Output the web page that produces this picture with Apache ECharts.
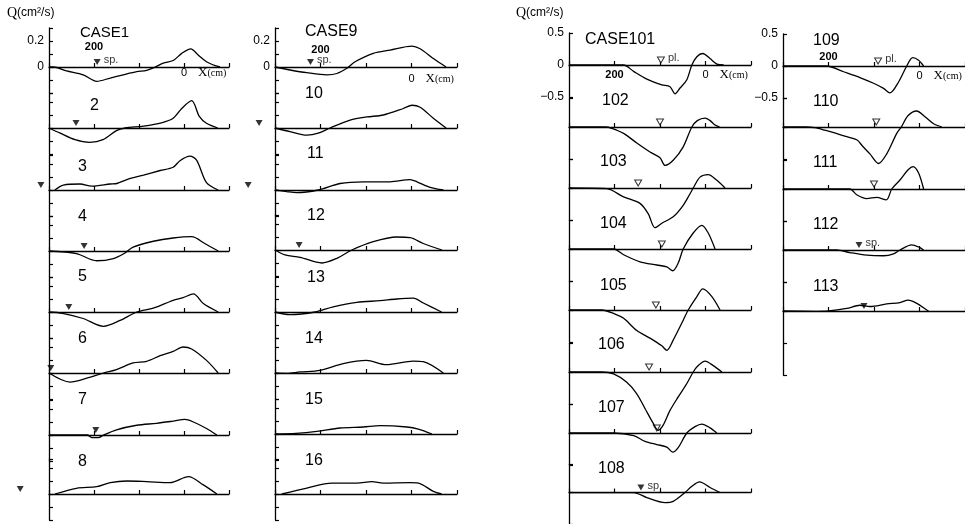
<!DOCTYPE html>
<html><head><meta charset="utf-8">
<script src="https://cdn.jsdelivr.net/npm/echarts@6/dist/echarts.min.js"></script>
<style>html,body{margin:0;padding:0;background:#fff}#c{width:965px;height:524px}</style>
</head><body><div id="c"></div>
<script>
// ---------- DATA: discharge Q (cm^2/s) vs X (cm) ----------
const c1  = [[300,0],[290,0],[261,-0.03],[224,-0.06],[194,-0.11],[164,-0.085],[135,-0.06],[105,-0.036],[83,-0.026],[64,0],[46,0.03],[24,0.05],[5,0.105],[-15,0.14],[-32,0.09],[-50,0.04],[-69,0.01],[-80,0]];
const c2  = [[300,0],[275,-0.04],[242,-0.09],[210,-0.11],[180,-0.09],[150,-0.02],[131,0],[90,0.015],[50,0.04],[24,0.075],[5,0.15],[-17,0.21],[-34,0.09],[-50,0.036],[-75,0]];
const c3  = [[287,0],[268,0.038],[231,0.046],[205,0.03],[164,0.046],[149,0.05],[127,0.08],[90,0.115],[53,0.15],[24,0.175],[9,0.225],[-13,0.26],[-28,0.23],[-50,0.056],[-76,0]];
const c4  = [[300,0],[239,-0.02],[194,-0.075],[157,-0.058],[131,-0.015],[113,0.03],[68,0.075],[24,0.1],[-17,0.11],[-47,0.056],[-76,0]];
const c5  = [[300,0],[270,-0.01],[224,-0.05],[179,-0.11],[142,-0.065],[105,0],[68,0.03],[24,0.09],[2,0.11],[-21,0.14],[-43,0.065],[-76,0]];
const c6  = [[300,0],[253,-0.07],[216,-0.04],[179,0],[150,0.026],[113,0.077],[83,0.09],[53,0.133],[24,0.166],[2,0.2],[-17,0.185],[-50,0.097],[-76,0]];
const c7  = [[300,0],[215,0],[205,-0.02],[190,-0.02],[179,0],[150,0.04],[105,0.075],[61,0.09],[24,0.107],[-2,0.12],[-21,0.1],[-50,0.05],[-73,0]];
const c8  = [[287,0],[239,0.044],[194,0.056],[164,0.087],[127,0.1],[83,0.095],[31,0.087],[-10,0.133],[-43,0.07],[-73,0]];
const c9  = [[300,0],[267,-0.023],[230,-0.044],[186,-0.06],[164,-0.05],[142,-0.01],[124,0.04],[84,0.105],[47,0.13],[-1,0.16],[-19,0.14],[-48,0.065],[-76,0]];
const c10 = [[300,0],[267,-0.028],[230,-0.055],[205,-0.04],[179,0],[135,0.06],[98,0.085],[62,0.1],[18,0.15],[-1,0.175],[-19,0.16],[-48,0.075],[-76,0]];
const c11 = [[300,0],[274,-0.012],[253,-0.02],[205,0],[157,0.05],[106,0.063],[47,0.063],[3,0.08],[-12,0.063],[-41,0.02],[-70,0]];
const c12 = [[300,0],[278,-0.038],[245,-0.056],[197,-0.1],[164,-0.064],[131,0],[84,0.064],[33,0.1],[3,0.095],[-26,0.05],[-67,0]];
const c13 = [[300,0],[267,-0.02],[212,0],[172,0.04],[120,0.074],[69,0.087],[33,0.1],[-4,0.106],[-26,0.069],[-66,0]];
const c14 = [[300,0],[274,-0.003],[245,0.008],[201,0.02],[150,0.072],[99,0.097],[55,0.064],[-4,0.092],[-26,0.087],[-70,0]];
const c15 = [[300,0],[254,0.005],[208,0.02],[157,0.046],[106,0.054],[69,0.064],[10,0.054],[-15,0.038],[-45,0]];
const c16 = [[285,0],[230,0.046],[175,0.084],[120,0.084],[87,0.095],[62,0.084],[3,0.087],[-15,0.084],[-48,0.02],[-66,0]];
const c101 = [[300,0],[180,0],[158,-0.1],[129,-0.22],[96,-0.31],[78,-0.34],[67,-0.45],[56,-0.36],[41,-0.23],[30,0],[19,0.13],[6,0.18],[-10,0.1],[-25,0.015],[-40,0]];
const c102 = [[300,0],[220,0],[206,-0.02],[180,-0.1],[151,-0.25],[122,-0.39],[100,-0.48],[89,-0.6],[71,-0.52],[49,-0.31],[30,0],[18,0.1],[1,0.14],[-10,0.1],[-21,0.03],[-31,0]];
const c103 = [[300,0],[217,-0.01],[180,-0.14],[144,-0.24],[126,-0.4],[111,-0.62],[96,-0.55],[71,-0.45],[49,-0.27],[34,-0.09],[27,0],[12,0.17],[-6,0.21],[-25,0.12],[-43,0]];
const c104 = [[300,0],[202,0],[180,-0.09],[144,-0.2],[107,-0.25],[85,-0.28],[72,-0.34],[60,-0.22],[49,0],[27,0.25],[8,0.37],[-6,0.25],[-21,0]];
const c105 = [[300,0],[228,0],[200,-0.06],[180,-0.13],[151,-0.32],[122,-0.44],[96,-0.56],[85,-0.63],[71,-0.47],[49,-0.16],[38,0],[19,0.21],[6,0.33],[-14,0.21],[-32,0]];
const c106 = [[300,0],[228,0],[202,-0.03],[173,-0.16],[151,-0.34],[133,-0.57],[115,-0.8],[104,-0.91],[93,-0.83],[78,-0.6],[60,-0.39],[41,-0.18],[27,0],[16,0.1],[1,0.17],[-17,0.1],[-36,0]];
const c107 = [[300,0],[202,0],[158,-0.04],[133,-0.13],[107,-0.18],[85,-0.22],[72,-0.3],[60,-0.23],[41,0],[23,0.1],[8,0.14],[-10,0.08],[-25,0]];
const c108 = [[300,0],[158,0],[129,-0.08],[89,-0.16],[71,-0.14],[45,0],[30,0.1],[13,0.17],[-10,0.08],[-32,0]];
const c109 = [[300,0],[204,0],[167,-0.09],[131,-0.18],[101,-0.27],[79,-0.35],[65,-0.42],[46,-0.25],[28,0],[15,0.13],[2,0.09],[-9,0]];
const c110 = [[300,0],[250,0],[230,-0.01],[208,-0.05],[170,-0.13],[138,-0.2],[125,-0.3],[109,-0.42],[90,-0.57],[72,-0.42],[50,-0.1],[40,0],[25,0.18],[6,0.25],[-12,0.16],[-31,0.05],[-49,0]];
const c111 = [[300,0],[153,0],[138,-0.09],[116,-0.15],[94,-0.13],[73,-0.17],[61,0],[43,0.14],[25,0.3],[14,0.35],[2,0.25],[-9,0]];
const c112 = [[300,0],[182,0],[153,-0.04],[116,-0.08],[79,-0.09],[57,-0.06],[43,0],[17,0.08],[0,0.04],[-9,0]];
const c113 = [[300,0],[226,-0.005],[200,0],[160,0.04],[131,0.09],[109,0.07],[72,0.11],[43,0.13],[25,0.17],[6,0.12],[-16,0.015],[-20,0]];

const names1 = ['CASE1','2','3','4','5','6','7','8'];
const names2 = ['CASE9','10','11','12','13','14','15','16'];
const names3 = ['CASE101','102','103','104','105','106','107','108'];
const names4 = ['109','110','111','112','113'];

// triangle marker positions X (cm); null = none
const tri1 = [193,240,318,222,256,296,196,364];
const tri2 = [222,335,359,247,null,null,null,null];
const tri3 = [98,100,148,96,109,124,107,142];
const tri4 = [91,95,100,133,122];
const triFilled1 = [1,1,1,1,1,1,1,1];
const triFilled2 = [1,1,1,1,0,0,0,0];
const triFilled3 = [0,0,0,0,0,0,0,1];
const triFilled4 = [0,0,0,1,1];
const notes1 = ['sp.','','','','','','',''];
const notes2 = ['sp.','','','','','','',''];
const notes3 = ['pl.','','','','','','','sp.'];
const notes4 = ['pl.','','','sp.',''];

const yTickLabels12 = [0.2, 0];
const yTickLabels34 = [0.5, 0, -0.5];
// x tick labels on the top panel: [value, placed above baseline?]
const xTickLabels1 = [[200,true],[0,false]];
const xTickLabels2 = [[200,true],[0,false]];
const xTickLabels3 = [[200,false],[0,false]];
const xTickLabels4 = [[200,true],[0,false]];

const dataCols = [
  {curves:[c1,c2,c3,c4,c5,c6,c7,c8], names:names1, tri:tri1, filled:triFilled1, notes:notes1, yLabels:yTickLabels12, xLabels:xTickLabels1},
  {curves:[c9,c10,c11,c12,c13,c14,c15,c16], names:names2, tri:tri2, filled:triFilled2, notes:notes2, yLabels:yTickLabels12, xLabels:xTickLabels2},
  {curves:[c101,c102,c103,c104,c105,c106,c107,c108], names:names3, tri:tri3, filled:triFilled3, notes:notes3, yLabels:yTickLabels34, xLabels:xTickLabels3},
  {curves:[c109,c110,c111,c112,c113], names:names4, tri:tri4, filled:triFilled4, notes:notes4, yLabels:yTickLabels34, xLabels:xTickLabels4}
];

// ---------- LAYOUT ----------
const layouts = [
  {left:49, width:180, scale:130, interval:0.1, topMax:0.3, max:0.27, min:-0.2, lastMin:-0.2,
   baselines:[67,128,190,251,312,373,435,494], aboveDy:-20, belowDy:6,
   labelPos:[[80,33],[90,106],[78,167],[78,217],[78,277],[78,339],[78,400],[78,462]]},
  {left:275, width:182, scale:130, interval:0.1, topMax:0.3, max:0.27, min:-0.2, lastMin:-0.2,
   baselines:[67,128,190,250,312,373,434,494], aboveDy:-17, belowDy:12,
   labelPos:[[305,32],[305,94],[307,154],[307,216],[307,278],[305,339],[305,400],[305,461]]},
  {left:569, width:182, scale:64, interval:0.5, topMax:0.5, max:0.45, min:-0.5, lastMin:-0.5,
   baselines:[65,127,188,249,310,372,433,493], aboveDy:-20, belowDy:10,
   labelPos:[[585,40],[602,101],[600,162],[600,224],[600,286],[598,345],[598,408],[598,469]]},
  {left:783, width:182, scale:64, interval:0.5, topMax:0.5, max:0.45, min:-0.5, lastMin:-1.0,
   baselines:[66,127,189,250,311], aboveDy:-9, belowDy:10,
   labelPos:[[813,41],[813,102],[813,163],[813,225],[813,287]]}
];

const FONT = '"Liberation Sans", Arial, Helvetica, sans-serif';
const SERIF = '"Liberation Serif", "DejaVu Serif", serif';
const grid=[], xAxis=[], yAxis=[], series=[], graphic=[];

function txt(x, y, text, font, align) {
  return {type:'text', x:x, y:y, silent:true,
    style:{text:text, font:font, fill:'#000', align:align||'left', textAlign:align||'left',
      verticalAlign:'middle', textVerticalAlign:'middle'}};
}

layouts.forEach((L, ci) => {
  const D = dataCols[ci];
  const pxPerCm = L.width / 400;
  const xPix = v => L.left + (300 - v) * pxPerCm;   // only used to place the text annotations
  D.curves.forEach((curve, pi) => {
    const idx = grid.length;
    const isTop = pi === 0, isLast = pi === D.curves.length - 1;
    const max = isTop ? L.topMax : L.max;
    const min = isLast ? L.lastMin : L.min;
    const b = L.baselines[pi];
    grid.push({left:L.left, width:L.width, top:b - max*L.scale, height:(max-min)*L.scale});
    xAxis.push({type:'value', gridIndex:idx, min:-100, max:300, interval:100, inverse:true,
      axisLine:{onZero:true, lineStyle:{color:'#000', width:1.3}},
      axisTick:{inside:true, length:4, lineStyle:{color:'#000', width:1.2}},
      axisLabel:{show:false}, splitLine:{show:false}});
    yAxis.push({type:'value', gridIndex:idx, min:min, max:max, interval:L.interval,
      axisLine:{show:true, onZero:false, lineStyle:{color:'#000', width:1.3}},
      axisTick:{show:true, inside:true, length:4, lineStyle:{color:'#000', width:1.2}},
      axisLabel:{show:isTop, margin:5, fontSize:12, color:'#000', fontFamily:FONT,
        formatter: v => { const m = D.yLabels.find(t => Math.abs(t - v) < 1e-6);
          return m === undefined ? '' : (m < 0 ? '\u2212' + Math.abs(m) : String(m)); }},
      splitLine:{show:false}});
    series.push({type:'line', xAxisIndex:idx, yAxisIndex:idx, data:curve, showSymbol:false,
      smooth:0.3, clip:false, silent:true, lineStyle:{color:'#000', width:1.3}});
    const tx = D.tri[pi];
    if (tx !== null && tx !== undefined) {
      const filled = D.filled[pi] === 1;
      const note = D.notes[pi];
      series.push({type:'scatter', xAxisIndex:idx, yAxisIndex:idx, clip:false, silent:true,
        symbol:'triangle', symbolRotate:180, symbolSize:[7,6], symbolOffset:[0,-5],
        itemStyle: filled ? {color:'#000'} : {color:'#fff', borderColor:'#000', borderWidth:1},
        label:{show:!!note, formatter:note, position:'right', distance:3, offset:[0,-2],
          fontSize:11, color:'#000', fontFamily:FONT},
        data:[[tx, 0]]});
    }
    const lp = L.labelPos[pi];
    graphic.push(txt(lp[0], lp[1], D.names[pi], (ci===0 && pi===0 ? '15px ' : '16px ') + FONT, 'left'));
    if (isTop) {
      D.xLabels.forEach(([v, above]) => {
        graphic.push(txt(xPix(v), b + (above ? L.aboveDy : L.belowDy), String(v),
          (v === 200 ? 'bold 11px ' : '11px ') + FONT, 'center'));
      });
      graphic.push({type:'text', x:xPix(0) + 14, y:b + L.belowDy, silent:true,
        style:{text:'{a|X}{b|(cm)}', fill:'#000', verticalAlign:'middle', textVerticalAlign:'middle',
          rich:{a:{fontFamily:SERIF, fontSize:13, color:'#000'}, b:{fontFamily:SERIF, fontSize:10, color:'#000'}}}});
    }
  });
});

// Q axis titles
[[7,13],[516,13]].forEach(p => {
  graphic.push({type:'text', x:p[0], y:p[1], silent:true,
    style:{text:'{a|Q}{b|(cm\u00B2/s)}', fill:'#000', verticalAlign:'middle', textVerticalAlign:'middle',
      rich:{a:{fontFamily:SERIF, fontSize:14, color:'#000'}, b:{fontFamily:FONT, fontSize:12, color:'#000'}}}});
});

const chart = echarts.init(document.getElementById('c'));
chart.setOption({animation:false, backgroundColor:'#fff', grid, xAxis, yAxis, series, graphic});
</script></body></html>
